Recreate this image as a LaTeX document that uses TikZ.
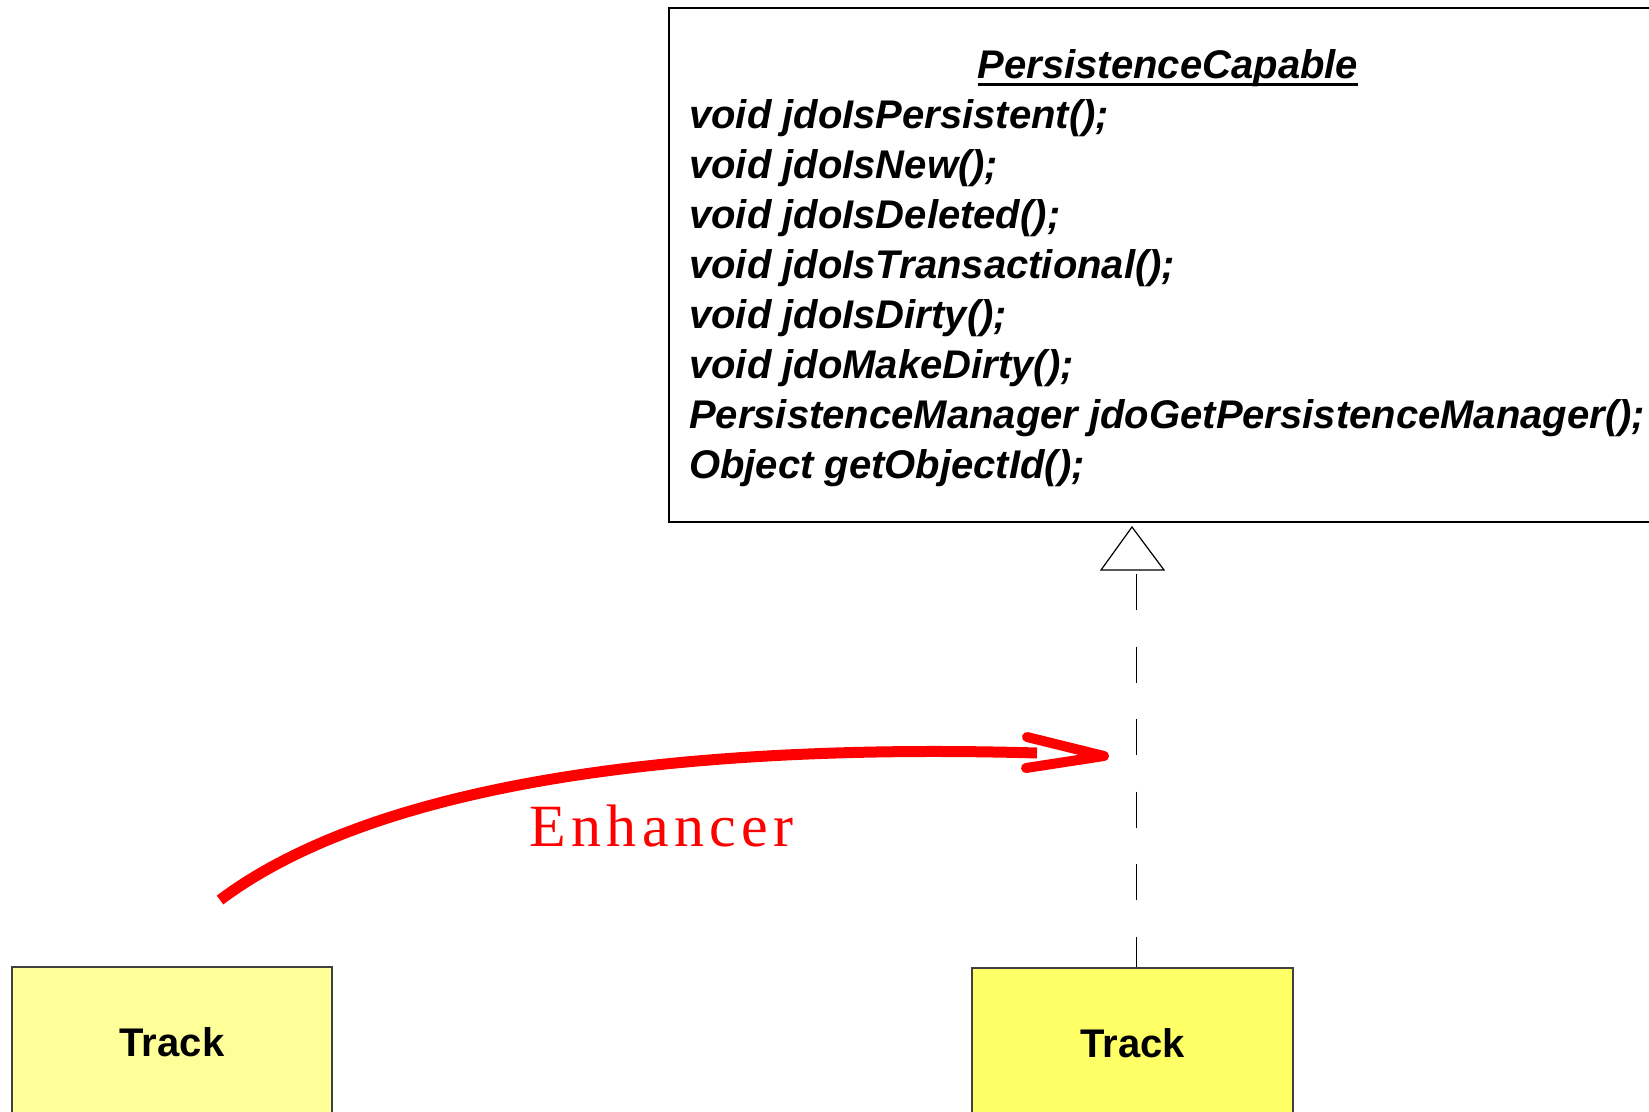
\documentclass[tikz,border=0pt]{standalone}
\usepackage{fontspec}
\setmainfont{Liberation Sans}
\newfontfamily\enhfont{Liberation Serif}[LetterSpace=9]
\definecolor{trackpale}{HTML}{FFFF99}
\definecolor{trackyellow}{HTML}{FFFF66}
\begin{document}
\begin{tikzpicture}[x=1pt,y=-1pt,
  classbox/.style={draw=black, line width=1.5pt, fill=white, anchor=north west,
    minimum width=1100pt, minimum height=514pt, inner sep=0pt},
  member/.style={anchor=base west, inner sep=0pt,
    font=\fontsize{40}{48}\selectfont\bfseries\itshape},
  trackbox/.style={draw=black!75, line width=1.2pt, minimum width=320pt,
    minimum height=150pt, inner sep=0pt,
    font=\fontsize{40}{48}\selectfont\bfseries},
  realize/.style={line width=1.2pt, dash pattern=on 36pt off 36.5pt},
  enhance/.style={draw=red, line width=11pt},
  enhancehead/.style={draw=red, line width=10pt, line cap=round, line join=round},
]
\useasboundingbox (0,0) rectangle (1649,1111);
\clip (0,0) rectangle (1649,1111);
\fill[white] (0,0) rectangle (1649,1111);

% interface class box (runs past the right edge)
\node[classbox] (pc) at (668,7) {};
\node[member, anchor=base] (title) at (1168,78) {PersistenceCapable};
\draw[line width=3pt] ([yshift=-6pt]title.base west) -- ([yshift=-6pt]title.base east);
\node[member] (m1) at (689,128) {void jdoIsPersistent();};
\node[member] (m2) at (689,178) {void jdoIsNew();};
\node[member] (m3) at (689,228) {void jdoIsDeleted();};
\node[member] (m4) at (689,278) {void jdoIsTransactional();};
\node[member] (m5) at (689,328) {void jdoIsDirty();};
\node[member] (m6) at (689,378) {void jdoMakeDirty();};
\node[member] (m7) at (689,428) {PersistenceManager jdoGetPersistenceManager();};
\node[member] (m8) at (689,478) {Object getObjectId();};

% the two Track classes
\node[trackbox, fill=trackpale] (trackA) at (172,1042) {Track};
\node[trackbox, fill=trackyellow, minimum width=321pt] (trackB) at (1132.5,1043) {Track};

% realization: hollow triangle and dashed line
\coordinate (apex) at (1132,527);
\coordinate (baseL) at (1101,570);
\coordinate (baseR) at (1164,570);
\draw[line width=1.2pt, fill=white] (apex) -- (baseR) -- (baseL) -- cycle;
\coordinate (realTop) at (1136.5,574);
\draw[realize] (realTop) -- (realTop |- trackB.north);

% enhancer transformation arrow
\coordinate (enhStart) at (220,900);
\coordinate (enhEnd) at (1037,753);
\draw[enhance] (enhStart) .. controls (400,765) and (760,745) .. (enhEnd);
\coordinate (tip) at (1104,756);
\coordinate (armUp) at (1027,737);
\coordinate (armDown) at (1026,768);
\draw[enhancehead] (armUp) -- (tip) -- (armDown);
\node[anchor=base west, inner sep=0pt, text=red,
  font=\enhfont\fontsize{60}{70}\selectfont] (enh) at (529,846) {Enhancer};
\end{tikzpicture}
\end{document}
